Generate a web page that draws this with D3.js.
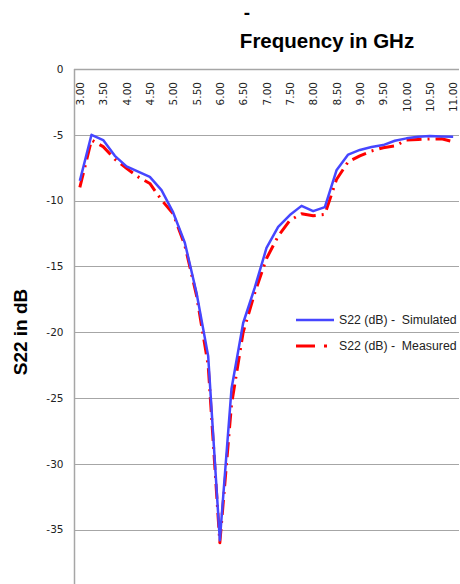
<!DOCTYPE html>
<html>
<head>
<meta charset="utf-8">
<script src="https://cdn.jsdelivr.net/npm/d3@7"></script>
<style>
  body { margin: 0; background: #fff; }
  svg { display: block; }
</style>
</head>
<body>
<div class="chart"></div>
<script>
// categories (GHz), one every 0.25
var freqs = ["3.00","3.25","3.50","3.75","4.00","4.25","4.50","4.75","5.00","5.25","5.50","5.75",
  "6.00","6.25","6.50","6.75","7.00","7.25","7.50","7.75","8.00","8.25","8.50","8.75",
  "9.00","9.25","9.50","9.75","10.00","10.25","10.50","10.75","11.00"];

// only every other category gets a label
var tickLabels = ["3.00","3.50","4.00","4.50","5.00","5.50","6.00","6.50","7.00","7.50",
  "8.00","8.50","9.00","9.50","10.00","10.50","11.00"];

var yTicks = [0, -5, -10, -15, -20, -25, -30, -35];

var simulated = [-8.5, -5.0, -5.4, -6.6, -7.4, -7.8, -8.2, -9.2, -10.9, -13.2, -17.0, -21.8,
  -35.8, -24.3, -19.3, -16.6, -13.6, -12.0, -11.1, -10.4, -10.8, -10.5, -7.7, -6.5,
  -6.15, -5.93, -5.78, -5.45, -5.27, -5.14, -5.09, -5.12, -5.14];

var measured = [-9.0, -5.4, -5.9, -6.85, -7.55, -8.2, -8.7, -9.95, -11.0, -13.4, -17.2, -22.5,
  -36.0, -25.5, -20.0, -17.0, -14.4, -12.7, -11.5, -11.0, -11.15, -11.05, -8.4, -7.05,
  -6.6, -6.23, -5.98, -5.85, -5.4, -5.35, -5.32, -5.3, -5.52];

var seriesNames = ["S22 (dB) -  Simulated", "S22 (dB) -  Measured"];

var svgWidth = 460, svgHeight = 584;
var margin = { top: 69, left: 74 };
var plotRight = 459;

var svg = d3.select(".chart").append("svg")
  .attr("width", svgWidth)
  .attr("height", svgHeight);

var x = d3.scalePoint().domain(freqs).range([margin.left, plotRight]).padding(0.5);
var y = d3.scaleLinear().domain([0, -40]).range([margin.top, margin.top + 8 * 65.8]);

// gridlines
svg.append("g")
  .selectAll("line")
  .data(yTicks.filter(function(d) { return d !== 0; }))
  .enter()
  .append("line")
  .attr("x1", margin.left)
  .attr("x2", plotRight)
  .attr("y1", function(d) { return Math.round(y(d)) + 0.5; })
  .attr("y2", function(d) { return Math.round(y(d)) + 0.5; })
  .attr("stroke", "#a6a6a6")
  .attr("stroke-width", 1.2);

// value axis on the left (plain hyphen, as in the original)
var leftAxis = d3.axisLeft(y).tickValues(yTicks).tickSize(0).tickPadding(11)
  .tickFormat(function(d) { return String(d); });
var gy = svg.append("g")
  .attr("transform", "translate(" + (margin.left + 0.5) + ",0)")
  .call(leftAxis);
gy.select(".domain").remove();
gy.selectAll("text")
  .style("font-family", "DejaVu Sans, sans-serif")
  .style("font-size", "10.5px")
  .attr("fill", "#222");

svg.append("line")
  .attr("x1", margin.left + 0.5).attr("x2", margin.left + 0.5)
  .attr("y1", margin.top).attr("y2", svgHeight)
  .attr("stroke", "#a6a6a6").attr("stroke-width", 1.5);

// category axis sits at 0 (top)
svg.append("line")
  .attr("x1", margin.left).attr("x2", plotRight)
  .attr("y1", y(0) + 0.5).attr("y2", y(0) + 0.5)
  .attr("stroke", "#a6a6a6").attr("stroke-width", 1.5);

svg.append("g")
  .selectAll("text")
  .data(tickLabels)
  .enter()
  .append("text")
  .attr("transform", function(d) { return "translate(" + (x(d) + 4) + ",82) rotate(-90)"; })
  .attr("text-anchor", "end")
  .style("font-family", "DejaVu Sans, sans-serif")
  .style("font-size", "10.5px")
  .attr("fill", "#222")
  .text(function(d) { return d; });

// lines
var line = d3.line()
  .x(function(d, i) { return x(freqs[i]); })
  .y(function(d) { return y(d); });

svg.append("path")
  .datum(measured)
  .attr("d", line)
  .attr("fill", "none")
  .attr("stroke", "#ff0000")
  .attr("stroke-width", 3)
  .attr("stroke-dasharray", "15,6,2,6")
  .attr("stroke-linejoin", "round");

svg.append("path")
  .datum(simulated)
  .attr("d", line)
  .attr("fill", "none")
  .attr("stroke", "#4646ff")
  .attr("stroke-width", 2.5)
  .attr("stroke-linejoin", "round");

// titles
svg.append("text")
  .attr("x", 247).attr("y", 19)
  .attr("text-anchor", "middle")
  .style("font-family", "Liberation Sans, Arial, sans-serif")
  .style("font-size", "19px")
  .style("font-weight", "bold")
  .text("-");

svg.append("text")
  .attr("x", 327).attr("y", 48)
  .attr("text-anchor", "middle")
  .style("font-family", "Liberation Sans, Arial, sans-serif")
  .style("font-size", "20.5px")
  .style("font-weight", "bold")
  .text("Frequency in GHz");

svg.append("text")
  .attr("transform", "translate(27,332) rotate(-90)")
  .attr("text-anchor", "middle")
  .style("font-family", "Liberation Sans, Arial, sans-serif")
  .style("font-size", "19px")
  .style("font-weight", "bold")
  .text("S22 in dB");

// legend
var legend = svg.append("g");
var legendY = [320, 346];
var legendStyle = [
  { color: "#4646ff", width: 2.5, dash: null },
  { color: "#ff0000", width: 3, dash: "19,9,3,9" }
];
seriesNames.forEach(function(name, i) {
  legend.append("line")
    .attr("x1", 296).attr("x2", 334)
    .attr("y1", legendY[i]).attr("y2", legendY[i])
    .attr("stroke", legendStyle[i].color)
    .attr("stroke-width", legendStyle[i].width)
    .attr("stroke-dasharray", legendStyle[i].dash);
  legend.append("text")
    .attr("x", 339).attr("y", legendY[i] + 4)
    .style("font-family", "Liberation Sans, Arial, sans-serif")
    .style("font-size", "12.3px")
    .style("white-space", "pre")
    .attr("fill", "#222")
    .text(name);
});
</script>
</body>
</html>
